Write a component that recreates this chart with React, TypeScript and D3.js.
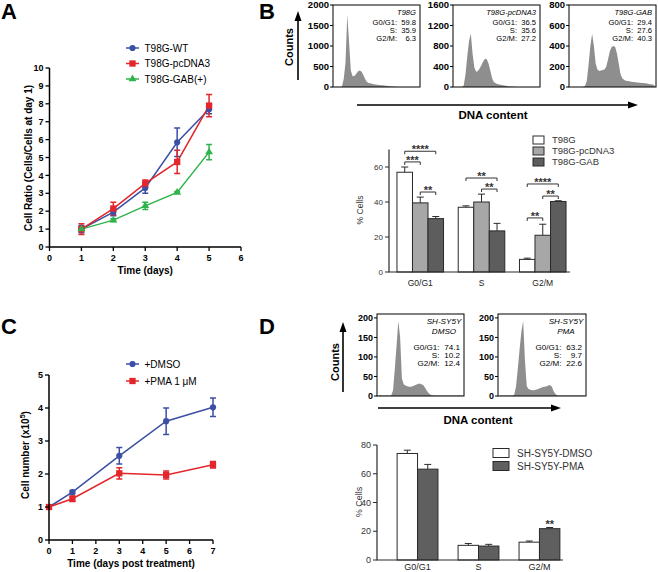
import * as d3 from "d3";
import { ReactNode } from "react";

const FONT = "'Liberation Sans', Arial, Helvetica, sans-serif";

// ---------- Panel A: growth of T98G lines ----------
const daysA = [1, 2, 3, 4, 5];
const wtA = [1.0, 1.95, 3.3, 5.85, 7.7];
const wtErrA = [0.2, 0.2, 0.3, 0.8, 0.25];
const pcA = [1.0, 2.15, 3.55, 4.75, 7.9];
const pcErrA = [0.3, 0.35, 0.2, 0.65, 0.62];
const gabA = [1.0, 1.5, 2.3, 3.05, 5.3];
const gabErrA = [0.05, 0.08, 0.2, 0.05, 0.42];
const namesA = ["T98G-WT", "T98G-pcDNA3", "T98G-GAB(+)"];
const xTicksA = [0, 1, 2, 3, 4, 5, 6];
const yTicksA = [0, 1, 2, 3, 4, 5, 6, 7, 8, 9, 10];

// ---------- Panel C: SH-SY5Y growth ----------
const daysC = [0, 1, 3, 5, 7];
const dmsoC = [1.0, 1.45, 2.55, 3.6, 4.02];
const dmsoErrC = [0.02, 0.05, 0.25, 0.4, 0.28];
const pmaC = [1.0, 1.25, 2.02, 1.97, 2.28];
const pmaErrC = [0.02, 0.08, 0.17, 0.12, 0.1];
const namesC = ["+DMSO", "+PMA 1 \u03bcM"];
const xTicksC = [0, 1, 2, 3, 4, 5, 6, 7];
const yTicksC = [0, 1, 2, 3, 4, 5];

// ---------- Panel B: flow histograms (48 bins each) ----------
const histT98G = [0, 0, 0, 0, 15, 200, 600, 1760, 1100, 400, 260, 270, 320, 380, 400, 380, 300, 200, 130, 100, 90, 80, 70, 60, 55, 50, 45, 40, 35, 30, 25, 20, 15, 10, 6, 4, 2, 0, 0, 0, 0, 0, 0, 0, 0, 0, 0, 0];
const histPc = [0, 0, 0, 0, 0, 30, 250, 600, 900, 1040, 650, 380, 300, 310, 360, 430, 500, 550, 540, 460, 320, 170, 100, 75, 60, 50, 42, 35, 28, 22, 16, 12, 8, 5, 3, 0, 0, 0, 0, 0, 0, 0, 0, 0, 0, 0, 0, 0];
const histGab = [0, 0, 0, 0, 0, 0, 0, 3, 10, 60, 220, 400, 520, 400, 230, 170, 155, 160, 165, 170, 200, 270, 350, 390, 400, 390, 330, 230, 130, 85, 70, 62, 58, 55, 52, 50, 48, 45, 44, 42, 40, 38, 36, 34, 30, 28, 24, 20];
const histTitlesB = ["T98G", "T98G-pcDNA3", "T98G-GAB"];
const histTicksB = [
  [0, 500, 1000, 1500, 2000],
  [0, 400, 800, 1200, 1600],
  [0, 200, 400, 600, 800],
];
const statsB = [
  ["59.8", "35.9", "6.3"],
  ["36.5", "35.6", "27.2"],
  ["29.4", "27.6", "40.3"],
];
const phaseLabels = ["G0/G1:", "S:", "G2/M:"];

// ---------- Panel B: bars ----------
const phases = ["G0/G1", "S", "G2/M"];
const barNamesB = ["T98G", "T98G-pcDNA3", "T98G-GAB"];
const barT98G = [57, 37, 7.2];
const barPc = [39.5, 40, 21];
const barGab = [30.5, 23.5, 40.3];
const errT98G = [3, 0.8, 0.7];
const errPc = [3.3, 4.5, 6.3];
const errGab = [1.2, 4.3, 0.4];
const yTicksB = [0, 20, 40, 60];
const sigB = [
  { phase: 0, a: 0, b: 2, level: 69, label: "****" },
  { phase: 0, a: 0, b: 1, level: 62.9, label: "***" },
  { phase: 0, a: 1, b: 2, level: 45.7, label: "**" },
  { phase: 1, a: 0, b: 2, level: 53.7, label: "**" },
  { phase: 1, a: 1, b: 2, level: 47.4, label: "**" },
  { phase: 2, a: 0, b: 2, level: 50.3, label: "****" },
  { phase: 2, a: 1, b: 2, level: 43.4, label: "**" },
  { phase: 2, a: 0, b: 1, level: 30.9, label: "**" },
];

// ---------- Panel D: histograms ----------
const histDmso = [2, 2, 1, 1, 1, 1, 1, 2, 15, 70, 130, 192, 150, 45, 30, 27, 25, 24, 24, 25, 27, 29, 31, 32, 30, 28, 22, 14, 8, 4, 2, 2, 1, 1, 1, 1, 1, 1, 1, 1, 1, 1, 1, 1, 1, 1, 1, 1];
const histPma = [1, 1, 1, 1, 1, 1, 1, 1, 3, 25, 70, 120, 165, 192, 90, 25, 18, 16, 15, 15, 16, 17, 19, 21, 23, 24, 25, 27, 28, 24, 12, 5, 2, 1, 1, 1, 1, 1, 1, 1, 1, 1, 1, 1, 1, 1, 1, 1];
const histTitlesD = [["SH-SY5Y", "DMSO"], ["SH-SY5Y", "PMA"]];
const histTicksD = [0, 50, 100, 150, 200];
const statsD = [
  ["74.1", "10.2", "12.4"],
  ["63.2", "9.7", "22.6"],
];

// ---------- Panel D: bars ----------
const barNamesD = ["SH-SY5Y-DMSO", "SH-SY5Y-PMA"];
const barDmso = [74.1, 10.2, 12.4];
const barPma = [63.2, 9.7, 21.8];
const errDmso = [2.3, 1.3, 0.8];
const errPma = [3.3, 1.2, 0.8];
const yTicksD = [0, 20, 40, 60, 80];
const sigD = [{ phase: 2, series: 1, label: "**" }];

const BLUE = "#3b4fa5";
const RED = "#e2262b";
const GREEN = "#2fb34b";
const HIST_FILL = "#8e8e8e";
const BAR_FILLS_B = ["#ffffff", "#a7a7a7", "#5d5d5d"];
const BAR_FILLS_D = ["#ffffff", "#5f5f5f"];

type LineSeries = {
  name: string;
  values: number[];
  errs: number[];
  color: string;
  symbol: d3.SymbolType;
  size: number;
};

type LinePanelProps = {
  xs: d3.ScaleLinear<number, number>;
  ys: d3.ScaleLinear<number, number>;
  days: number[];
  series: LineSeries[];
  xTicks: number[];
  yTicks: number[];
  xLabel: string;
  xLabelY: number;
  yLabel: ReactNode;
  yLabelX: number;
  yLabelY: number;
  legendX: number;
  legendY: number;
  legendStep: number;
};

const LinePanel = ({
  xs, ys, days, series, xTicks, yTicks, xLabel, xLabelY, yLabel, yLabelX, yLabelY, legendX, legendY, legendStep,
}: LinePanelProps) => {
  const line = d3
    .line<number>()
    .x((_, i) => xs(days[i]))
    .y((d) => ys(d));
  const [x0, x1] = xs.range();
  const [yb, yt] = ys.range();
  const cap = 3;

  return (
    <g>
      {series.map((s) => (
        <path key={s.name} d={line(s.values) ?? ""} fill="none" stroke={s.color} strokeWidth={1.5} />
      ))}
      {series.map((s) =>
        s.values.map((v, i) => {
          const cx = xs(days[i]);
          const top = ys(v + s.errs[i]);
          const bot = ys(v - s.errs[i]);
          return (
            <path
              key={s.name + i}
              d={`M${cx},${top}V${bot}M${cx - cap},${top}H${cx + cap}M${cx - cap},${bot}H${cx + cap}`}
              stroke={s.color}
              strokeWidth={1.5}
              fill="none"
            />
          );
        })
      )}
      {series.map((s) =>
        s.values.map((v, i) => (
          <path
            key={"m" + s.name + i}
            d={d3.symbol().type(s.symbol).size(s.size)() ?? ""}
            transform={`translate(${xs(days[i])},${ys(v)})`}
            fill={s.color}
          />
        ))
      )}

      {/* axes */}
      <path d={`M${x0},${yt}V${yb}H${x1}`} fill="none" stroke="#000" strokeWidth={1.5} />
      {yTicks.map((t) => (
        <g key={"y" + t} transform={`translate(${x0},${ys(t)})`}>
          <line x1={-4} x2={0} stroke="#000" strokeWidth={1.3} />
          <text x={-6} dy="0.35em" textAnchor="end" fontSize={9} fontWeight="bold">
            {t}
          </text>
        </g>
      ))}
      {xTicks.map((t) => (
        <g key={"x" + t} transform={`translate(${xs(t)},${yb})`}>
          <line y1={0} y2={4} stroke="#000" strokeWidth={1.3} />
          <text y={13.5} textAnchor="middle" fontSize={9} fontWeight="bold">
            {t}
          </text>
        </g>
      ))}
      <text x={(x0 + x1) / 2} y={xLabelY} textAnchor="middle" fontSize={10} fontWeight="bold">
        {xLabel}
      </text>
      <text
        transform={`translate(${yLabelX},${yLabelY}) rotate(-90)`}
        textAnchor="middle"
        dy="0.35em"
        fontSize={10}
        fontWeight="bold"
      >
        {yLabel}
      </text>

      {/* legend */}
      {series.map((s, i) => {
        const ly = legendY + i * legendStep;
        return (
          <g key={"l" + s.name}>
            <line x1={legendX - 6.5} x2={legendX + 6.5} y1={ly} y2={ly} stroke={s.color} strokeWidth={1.5} />
            <path
              d={d3.symbol().type(s.symbol).size(s.size)() ?? ""}
              transform={`translate(${legendX},${ly})`}
              fill={s.color}
            />
            <text x={legendX + 12} y={ly} dy="0.35em" fontSize={10}>
              {s.name}
            </text>
          </g>
        );
      })}
    </g>
  );
};

type HistBoxProps = {
  x0: number;
  x1: number;
  yTop: number;
  yBottom: number;
  topVal: number;
  bins: number[];
  ticks: number[];
  tickFont: number;
  titles: string[];
  titleY: number;
  titleX: number;
  titleAnchor: "end" | "middle";
  stats: string[];
  statFont: number;
  statsY: number;
  gap: number;
  valueW: number;
};

const HistBox = ({
  x0, x1, yTop, yBottom, topVal, bins, ticks, tickFont, titles, titleY, titleX, titleAnchor, stats, statFont, statsY, gap, valueW,
}: HistBoxProps) => {
  const xs = d3.scaleLinear().domain([0, bins.length]).range([x0 + 1, x1 - 1]);
  const ys = d3.scaleLinear().domain([0, topVal]).range([yBottom, yTop]);
  const pts: [number, number][] = [
    [xs(0), ys(0)],
    ...bins.map((b, i) => [xs(i + 0.5), ys(b)] as [number, number]),
    [xs(bins.length), ys(0)],
  ];
  const area = d3
    .area<[number, number]>()
    .x((d) => d[0])
    .y0(yBottom)
    .y1((d) => d[1]);

  return (
    <g>
      <path d={area(pts) ?? ""} fill={HIST_FILL} />
      <rect x={x0} y={yTop} width={x1 - x0} height={yBottom - yTop} fill="none" stroke="#000" strokeWidth={1} />
      {ticks.map((t) => (
        <g key={t} transform={`translate(${x0},${ys(t)})`}>
          <line x1={-3} x2={0} stroke="#000" strokeWidth={1} />
          <text x={-4} dy="0.35em" textAnchor="end" fontSize={tickFont} fontWeight="bold">
            {t}
          </text>
        </g>
      ))}
      {titles.map((t, i) => (
        <text key={t} x={titleX} y={titleY + i * 10} textAnchor={titleAnchor} fontSize={statFont} fontStyle="italic">
          {t}
        </text>
      ))}
      {stats.map((v, i) => (
        <g key={i}>
          <text x={x1 - 4 - valueW} y={statsY + i * gap} textAnchor="end" fontSize={statFont}>
            {phaseLabels[i]}
          </text>
          <text x={x1 - 4} y={statsY + i * gap} textAnchor="end" fontSize={statFont}>
            {v}
          </text>
        </g>
      ))}
    </g>
  );
};

type BarPanelProps = {
  names: string[];
  values: number[][];
  errs: number[][];
  fills: string[];
  xb: d3.ScaleBand<string>;
  ys: d3.ScaleLinear<number, number>;
  axisEnd: number;
  yTicks: number[];
  tickFont: number;
  catY: number;
  yLabelX: number;
  yLabelY: number;
  labelFont: number;
  legendX: number;
  legendY: number;
  legendStep: number;
  swW: number;
  swH: number;
  legendFont: number;
};

const BarPanel = ({
  names, values, errs, fills, xb, ys, axisEnd, yTicks, tickFont, catY, yLabelX, yLabelY, labelFont, legendX, legendY, legendStep, swW, swH, legendFont,
}: BarPanelProps) => {
  const inner = d3.scaleBand<string>().domain(names).range([0, xb.bandwidth()]);
  const x0 = xb.range()[0];
  const [yb, yt] = ys.range();
  const ink = "#2a2a2a";
  return (
    <g>
      {names.map((n, si) =>
        phases.map((p, pi) => {
          const bx = (xb(p) ?? 0) + (inner(n) ?? 0);
          const w = inner.bandwidth();
          const v = values[si][pi];
          const top = ys(v + errs[si][pi]);
          const cx = bx + w / 2;
          return (
            <g key={n + p}>
              <path d={`M${cx},${ys(v)}V${top}M${cx - 3.5},${top}H${cx + 3.5}`} stroke={ink} strokeWidth={1} />
              <rect x={bx} y={ys(v)} width={w} height={yb - ys(v)} fill={fills[si]} stroke={ink} strokeWidth={1} />
            </g>
          );
        })
      )}
      <path d={`M${x0},${yt}V${yb}H${axisEnd}`} fill="none" stroke={ink} strokeWidth={1.2} />
      {yTicks.map((t) => (
        <g key={t} transform={`translate(${x0},${ys(t)})`}>
          <line x1={-4} x2={0} stroke={ink} />
          <text x={-6} dy="0.35em" textAnchor="end" fontSize={tickFont} fill="#333">
            {t}
          </text>
        </g>
      ))}
      {phases.map((p) => (
        <text key={p} x={(xb(p) ?? 0) + xb.bandwidth() / 2} y={catY} textAnchor="middle" fontSize={labelFont} fill="#222">
          {p}
        </text>
      ))}
      <text
        transform={`translate(${yLabelX},${yLabelY}) rotate(-90)`}
        textAnchor="middle"
        dy="0.35em"
        fontSize={labelFont}
        fill="#333"
      >
        % Cells
      </text>
      {names.map((n, i) => (
        <g key={"lg" + n}>
          <rect
            x={legendX}
            y={legendY + i * legendStep - swH / 2}
            width={swW}
            height={swH}
            fill={fills[i]}
            stroke={ink}
            strokeWidth={1}
          />
          <text x={legendX + swW + 8} y={legendY + i * legendStep} dy="0.35em" fontSize={legendFont} fill="#333">
            {n}
          </text>
        </g>
      ))}
    </g>
  );
};

const Arrow = ({ x1, y1, x2, y2 }: { x1: number; y1: number; x2: number; y2: number }) => {
  const ang = Math.atan2(y2 - y1, x2 - x1);
  const L = 10;
  const W = 3.5;
  const bx = x2 - L * Math.cos(ang);
  const by = y2 - L * Math.sin(ang);
  const px = -Math.sin(ang) * W;
  const py = Math.cos(ang) * W;
  return (
    <g>
      <line x1={x1} y1={y1} x2={bx} y2={by} stroke="#000" strokeWidth={1.6} />
      <path d={`M${x2},${y2}L${bx + px},${by + py}L${bx - px},${by - py}Z`} fill="#000" />
    </g>
  );
};

const PanelLetter = ({ x, y, t }: { x: number; y: number; t: string }) => (
  <text x={x} y={y} fontSize={22} fontWeight="bold">
    {t}
  </text>
);

export default function App() {
  // Panel A
  const xA = d3.scaleLinear().domain([0, 6]).range([49.5, 241]);
  const yA = d3.scaleLinear().domain([0, 10]).range([247, 68]);
  const seriesA: LineSeries[] = [
    { name: namesA[0], values: wtA, errs: wtErrA, color: BLUE, symbol: d3.symbolCircle, size: 30 },
    { name: namesA[1], values: pcA, errs: pcErrA, color: RED, symbol: d3.symbolSquare, size: 40 },
    { name: namesA[2], values: gabA, errs: gabErrA, color: GREEN, symbol: d3.symbolTriangle, size: 26 },
  ];

  // Panel C
  const xC = d3.scaleLinear().domain([0, 7]).range([49, 213]);
  const yC = d3.scaleLinear().domain([0, 5]).range([540, 375]);
  const seriesC: LineSeries[] = [
    { name: namesC[0], values: dmsoC, errs: dmsoErrC, color: BLUE, symbol: d3.symbolCircle, size: 30 },
    { name: namesC[1], values: pmaC, errs: pmaErrC, color: RED, symbol: d3.symbolSquare, size: 40 },
  ];

  // Panel B bars
  const xbB = d3.scaleBand<string>().domain(phases).range([389, 574]).paddingInner(0.24).paddingOuter(0.13);
  const yB = d3.scaleLinear().domain([0, 70]).range([272, 149.5]);
  const valsB = [barT98G, barPc, barGab];
  const errsB = [errT98G, errPc, errGab];
  const innerB = d3.scaleBand<string>().domain(barNamesB).range([0, xbB.bandwidth()]);
  const barCenterB = (phase: number, s: number) =>
    (xbB(phases[phase]) ?? 0) + (innerB(barNamesB[s]) ?? 0) + innerB.bandwidth() / 2;

  // Panel D bars
  const xbD = d3.scaleBand<string>().domain(phases).range([377, 580]).paddingInner(0.33).paddingOuter(0.33);
  const yD = d3.scaleLinear().domain([0, 80]).range([560, 445]);
  const valsD = [barDmso, barPma];
  const errsD = [errDmso, errPma];
  const innerD = d3.scaleBand<string>().domain(barNamesD).range([0, xbD.bandwidth()]);

  const histB = [histT98G, histPc, histGab];
  const boxB = [
    [333, 420],
    [453, 540],
    [569, 656],
  ];
  const histD = [histDmso, histPma];
  const boxD = [
    [377, 464],
    [498, 586],
  ];

  return (
    <div style={{ position: "absolute", left: 0, top: 0 }}>
      <svg width={658} height={572} style={{ display: "block", background: "#fff" }} fontFamily={FONT}>
        <PanelLetter x={1} y={19} t="A" />
        <PanelLetter x={259} y={19} t="B" />
        <PanelLetter x={1} y={334} t="C" />
        <PanelLetter x={259} y={334} t="D" />

        <LinePanel
          xs={xA}
          ys={yA}
          days={daysA}
          series={seriesA}
          xTicks={xTicksA}
          yTicks={yTicksA}
          xLabel="Time (days)"
          xLabelY={274}
          yLabel="Cell Ratio (Cells/Cells at day 1)"
          yLabelX={28}
          yLabelY={158}
          legendX={132.5}
          legendY={48}
          legendStep={15.5}
        />

        <LinePanel
          xs={xC}
          ys={yC}
          days={daysC}
          series={seriesC}
          xTicks={xTicksC}
          yTicks={yTicksC}
          xLabel="Time (days post treatment)"
          xLabelY={567}
          yLabel={
            <>
              Cell number (x10<tspan dy="-4" fontSize={7}>5</tspan>
              <tspan dy="4">)</tspan>
            </>
          }
          yLabelX={25}
          yLabelY={455}
          legendX={132.5}
          legendY={364}
          legendStep={17}
        />

        {/* B histograms */}
        {histB.map((bins, i) => (
          <HistBox
            key={i}
            x0={boxB[i][0]}
            x1={boxB[i][1]}
            yTop={5}
            yBottom={87}
            topVal={histTicksB[i][4]}
            bins={bins}
            ticks={histTicksB[i]}
            tickFont={9.5}
            titles={[histTitlesB[i]]}
            titleX={boxB[i][1] - 4}
            titleY={14.5}
            titleAnchor="end"
            stats={statsB[i]}
            statFont={7.6}
            statsY={24.5}
            gap={8}
            valueW={19}
          />
        ))}
        <Arrow x1={298} y1={80} x2={298} y2={11} />
        <text transform="translate(289,47) rotate(-90)" textAnchor="middle" dy="0.35em" fontSize={11} fontWeight="bold">
          Counts
        </text>
        <Arrow x1={357} y1={105} x2={638} y2={105} />
        <text x={493} y={119} textAnchor="middle" fontSize={11.5} fontWeight="bold">
          DNA content
        </text>

        {/* B bars */}
        <BarPanel
          names={barNamesB}
          values={valsB}
          errs={errsB}
          fills={BAR_FILLS_B}
          xb={xbB}
          ys={yB}
          axisEnd={570}
          yTicks={yTicksB}
          tickFont={8}
          catY={286}
          yLabelX={360}
          yLabelY={210}
          labelFont={8.5}
          legendX={533}
          legendY={140}
          legendStep={11}
          swW={11}
          swH={8}
          legendFont={9.5}
        />
        {sigB.map((s, i) => {
          const xa = barCenterB(s.phase, s.a);
          const xe = barCenterB(s.phase, s.b);
          const yy = yB(s.level);
          return (
            <g key={"sig" + i}>
              <path d={`M${xa},${yy + 3}V${yy}H${xe}V${yy + 3}`} fill="none" stroke="#333" strokeWidth={1} />
              <text x={(xa + xe) / 2} y={yy + 2} textAnchor="middle" fontSize={11} fontWeight="bold" fill="#333">
                {s.label}
              </text>
            </g>
          );
        })}

        {/* D histograms */}
        {histD.map((bins, i) => (
          <HistBox
            key={"d" + i}
            x0={boxD[i][0]}
            x1={boxD[i][1]}
            yTop={314}
            yBottom={396}
            topVal={210}
            bins={bins}
            ticks={histTicksD}
            tickFont={9}
            titles={histTitlesD[i]}
            titleX={boxD[i][1] - 20}
            titleY={323.5}
            titleAnchor="middle"
            stats={statsD[i]}
            statFont={8.1}
            statsY={350}
            gap={7.8}
            valueW={20.5}
          />
        ))}
        <Arrow x1={343} y1={392} x2={343} y2={322} />
        <text transform="translate(335,362) rotate(-90)" textAnchor="middle" dy="0.35em" fontSize={11} fontWeight="bold">
          Counts
        </text>
        <Arrow x1={378} y1={408} x2={561} y2={408} />
        <text x={478} y={424} textAnchor="middle" fontSize={11.5} fontWeight="bold">
          DNA content
        </text>

        {/* D bars */}
        <BarPanel
          names={barNamesD}
          values={valsD}
          errs={errsD}
          fills={BAR_FILLS_D}
          xb={xbD}
          ys={yD}
          axisEnd={563}
          yTicks={yTicksD}
          tickFont={9}
          catY={570}
          yLabelX={359}
          yLabelY={502}
          labelFont={9}
          legendX={493}
          legendY={453}
          legendStep={13}
          swW={16}
          swH={9}
          legendFont={10}
        />
        {sigD.map((s, i) => {
          const cx = (xbD(phases[s.phase]) ?? 0) + (innerD(barNamesD[s.series]) ?? 0) + innerD.bandwidth() / 2;
          const v = valsD[s.series][s.phase] + errsD[s.series][s.phase];
          return (
            <text key={"sd" + i} x={cx} y={yD(v) + 0.5} textAnchor="middle" fontSize={11} fontWeight="bold" fill="#333">
              {s.label}
            </text>
          );
        })}
      </svg>
    </div>
  );
}
